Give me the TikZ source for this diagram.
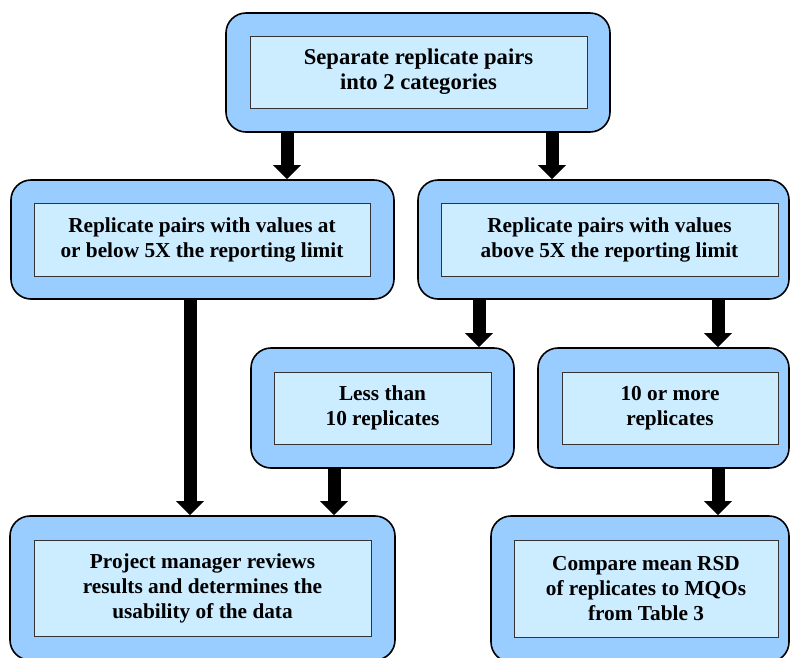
\documentclass[tikz,border=0pt]{standalone}
\usepackage{fontspec}
\setmainfont{Liberation Serif}
\usetikzlibrary{arrows.meta}
\definecolor{outerblue}{HTML}{99CCFF}
\definecolor{innerblue}{HTML}{CCECFF}
\tikzset{
	outerbox/.style={draw=black, line width=1.6pt, fill=outerblue, rounded corners=20pt, inner sep=0pt},
	innerbox/.style={draw=black!80, line width=0.9pt, fill=innerblue, align=center, inner sep=0pt,
		font=\fontsize{21.3}{25}\selectfont\bfseries},
	fatarrow/.style={line width=13pt, -{Triangle[width=27pt,length=14pt]}}
}

\begin{document}
\begin{tikzpicture}[x=1pt, y=-1pt]
		%%%%% START %%%%%
		\useasboundingbox (0, 0) rectangle (790, 657);
		
		\node[outerbox, minimum width=384pt, minimum height=119pt] (top) at (418, 72.5) {};
		\node[innerbox, minimum width=337pt, minimum height=72pt, font=\fontsize{22.6}{25}\selectfont\bfseries] at (418.5, 72) {Separate replicate pairs\\into 2 categories};
		
		\node[outerbox, minimum width=383pt, minimum height=119pt] (low) at (202.5, 239.5) {};
		\node[innerbox, minimum width=336pt, minimum height=73pt] at (202, 239.5) {Replicate pairs with values at\\or below 5X the reporting limit};
		
		\node[outerbox, minimum width=371pt, minimum height=119pt] (high) at (603.5, 239.5) {};
		\node[innerbox, minimum width=337pt, minimum height=73pt] at (609.5, 239.5) {Replicate pairs with values\\above 5X the reporting limit};
		
		\node[outerbox, minimum width=263pt, minimum height=120pt] (few) at (382.5, 408) {};
		\node[innerbox, minimum width=217pt, minimum height=72pt] at (382.5, 408) {Less than\\10 replicates};
		
		\node[outerbox, minimum width=251pt, minimum height=120pt] (many) at (663.5, 408) {};
		\node[innerbox, minimum width=216pt, minimum height=72pt] at (670, 408) {10 or more\\replicates};
		
		\node[outerbox, minimum width=385pt, minimum height=144pt] (review) at (202.5, 588) {};
		\node[innerbox, minimum width=337pt, minimum height=96pt] at (202.5, 588) {Project manager reviews\\results and determines the\\usability of the data};
		
		\node[outerbox, minimum width=298pt, minimum height=146pt] (compare) at (640, 589) {};
		\node[innerbox, minimum width=264pt, minimum height=97pt] at (646, 588.5) {Compare mean RSD\\of replicates to MQOs\\from Table 3};
		
		% arrow columns
		\coordinate (c1) at (287, 0);
		\coordinate (c2) at (552, 0);
		\coordinate (c3) at (190, 0);
		\coordinate (c4) at (479, 0);
		\coordinate (c5) at (718, 0);
		\coordinate (c6) at (334, 0);
		
		\draw[fatarrow] (top.south -| c1) -- (low.north -| c1);
		\draw[fatarrow] (top.south -| c2) -- (high.north -| c2);
		\draw[fatarrow] (low.south -| c3) -- (review.north -| c3);
		\draw[fatarrow] (high.south -| c4) -- (few.north -| c4);
		\draw[fatarrow] (high.south -| c5) -- (many.north -| c5);
		\draw[fatarrow] (few.south -| c6) -- (review.north -| c6);
		\draw[fatarrow] (many.south -| c5) -- (compare.north -| c5);
		%%%%% END %%%%%
	\end{tikzpicture}
\end{document}
